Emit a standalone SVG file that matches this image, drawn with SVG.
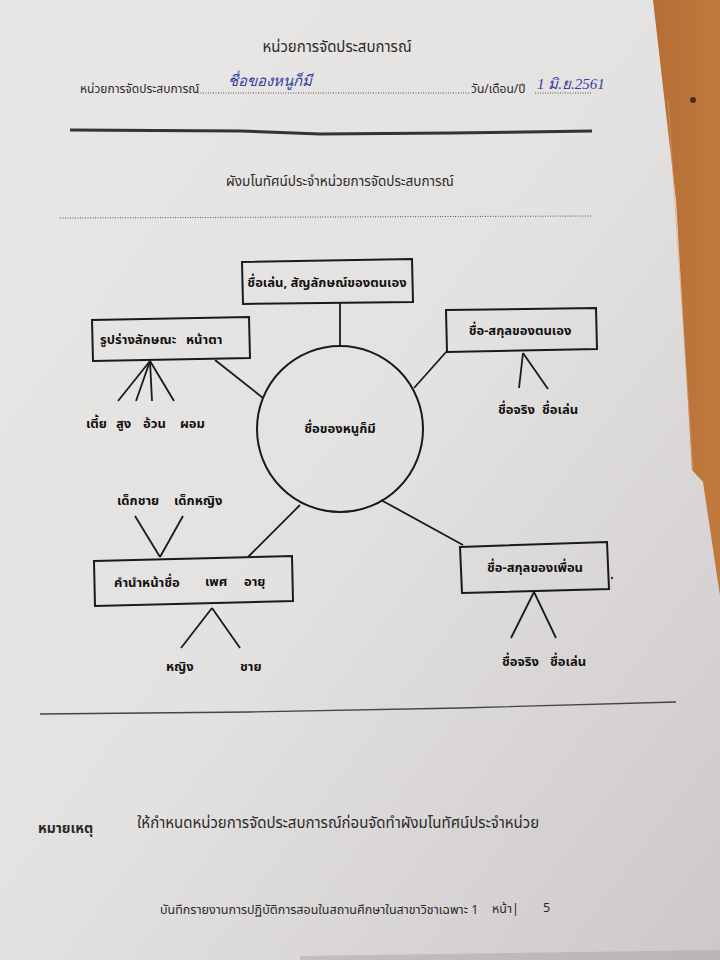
<svg xmlns="http://www.w3.org/2000/svg" width="720" height="960" viewBox="0 0 720 960">
<defs>
<linearGradient id="paper" x1="0" y1="0" x2="1" y2="1">
<stop offset="0" stop-color="#e9e6e6"/>
<stop offset="0.5" stop-color="#e4e1e1"/>
<stop offset="1" stop-color="#cdc9ca"/>
</linearGradient>
<linearGradient id="wood" x1="0" y1="0" x2="1" y2="0">
<stop offset="0" stop-color="#b56d33"/>
<stop offset="1" stop-color="#c07a3e"/>
</linearGradient>
</defs>
<style>
text{font-family:"Noto Sans Thai","Noto Sans","Liberation Sans",sans-serif;fill:#2a2a2a}
.h{font-size:15px}
.b{font-size:13px;font-weight:bold;fill:#111}
.hand{font-family:"Liberation Serif",serif;font-style:italic;font-size:15px;fill:#3540a0}
.box{fill:none;stroke:#1a1a1a;stroke-width:2}
.ln{stroke:#1a1a1a;stroke-width:1.8;fill:none}
.dot{stroke:#555;stroke-width:1;stroke-dasharray:1 1.5;fill:none}
.f{font-size:12.5px}
</style>
<rect x="0" y="0" width="720" height="960" fill="url(#paper)"/>
<polygon points="653,0 720,0 720,596 703,482 692,470 676,200" fill="url(#wood)"/>
<line x1="668" y1="100" x2="693" y2="470" stroke="#d9a277" stroke-width="1" opacity="0.6"/>
<circle cx="693" cy="100" r="3" fill="#4a2a15"/>
<polygon points="300,956 720,950 720,960 300,960" fill="#9a98a0" opacity="0.4"/>

<g id="header">
<text x="337" y="52" class="h" text-anchor="middle">หน่วยการจัดประสบการณ์</text>
<text x="80" y="93" style="font-size:12px">หน่วยการจัดประสบการณ์</text>
<line x1="198" y1="93" x2="470" y2="93" class="dot"/>
<text x="228" y="86" class="hand">ชื่อของหนูก็มี</text>
<text x="471" y="93" style="font-size:12px">วัน/เดือน/ปี</text>
<line x1="535" y1="93" x2="592" y2="93" class="dot"/>
<text x="537" y="89" class="hand">1 มิ.ย.2561</text>
<path d="M70,130 L240,131 L320,134 L450,133 L592,131" stroke="#333" stroke-width="3" fill="none"/>
<text x="340" y="186" text-anchor="middle" style="font-size:13.5px">ผังมโนทัศน์ประจำหน่วยการจัดประสบการณ์</text>
<line x1="60" y1="218" x2="592" y2="216" class="dot"/>
</g>

<g id="connectors">
<line x1="340" y1="303" x2="340" y2="346" class="ln"/>
<line x1="215" y1="360" x2="263" y2="398" class="ln"/>
<line x1="447" y1="351" x2="414" y2="388" class="ln"/>
<line x1="300" y1="505" x2="248" y2="557" class="ln"/>
<line x1="381" y1="500" x2="463" y2="545" class="ln"/>
<line x1="150" y1="361" x2="118" y2="401" class="ln"/>
<line x1="150" y1="361" x2="136" y2="401" class="ln"/>
<line x1="150" y1="361" x2="152" y2="401" class="ln"/>
<line x1="150" y1="361" x2="174" y2="401" class="ln"/>
<line x1="523" y1="353" x2="519" y2="388" class="ln"/>
<line x1="523" y1="353" x2="548" y2="389" class="ln"/>
<line x1="135" y1="516" x2="160" y2="557" class="ln"/>
<line x1="183" y1="516" x2="160" y2="557" class="ln"/>
<line x1="212" y1="608" x2="181" y2="648" class="ln"/>
<line x1="212" y1="608" x2="240" y2="648" class="ln"/>
<line x1="534" y1="592" x2="511" y2="638" class="ln"/>
<line x1="534" y1="592" x2="556" y2="638" class="ln"/>
</g>

<g id="center">
<circle cx="340" cy="429" r="83" class="box"/>
<text x="340" y="433" class="b" text-anchor="middle">ชื่อของหนูก็มี</text>
</g>

<g id="top">
<polygon points="242,262 412,259 413,302 243,304" class="box"/>
<text x="327" y="287" class="b" text-anchor="middle">ชื่อเล่น, สัญลักษณ์ของตนเอง</text>
</g>

<g id="looks">
<polygon points="92,320 249,317 250,358 93,361" class="box"/>
<text x="100" y="344" class="b">รูปร่างลักษณะ</text>
<text x="186" y="344" class="b">หน้าตา</text>
<text x="86" y="428" class="b">เตี้ย</text>
<text x="116" y="428" class="b">สูง</text>
<text x="143" y="428" class="b">อ้วน</text>
<text x="180" y="428" class="b">ผอม</text>
</g>

<g id="ownname">
<polygon points="446,310 596,308 597,349 447,352" class="box"/>
<text x="520" y="335" class="b" text-anchor="middle">ชื่อ-สกุลของตนเอง</text>
<text x="498" y="414" class="b">ชื่อจริง</text>
<text x="542" y="414" class="b">ชื่อเล่น</text>
</g>

<g id="title">
<polygon points="94,561 292,556 293,601 95,606" class="box"/>
<text x="114" y="587" class="b">คำนำหน้าชื่อ</text>
<text x="205" y="586" class="b">เพศ</text>
<text x="244" y="586" class="b">อายุ</text>
<text x="117" y="505" class="b">เด็กชาย</text>
<text x="174" y="505" class="b">เด็กหญิง</text>
<text x="166" y="671" class="b">หญิง</text>
<text x="240" y="671" class="b">ชาย</text>
</g>

<g id="friend">
<polygon points="460,547 607,542 609,589 462,593" class="box"/>
<text x="535" y="572" class="b" text-anchor="middle">ชื่อ-สกุลของเพื่อน</text>
<text x="502" y="666" class="b">ชื่อจริง</text>
<text x="550" y="666" class="b">ชื่อเล่น</text>
<circle cx="612" cy="578" r="1.2" fill="#333"/>
</g>

<g id="footer">
<path d="M40,714 L250,712 L460,708 L676,702" stroke="#444" stroke-width="1.4" fill="none"/>
<text x="38" y="833" style="font-size:14px;font-weight:bold">หมายเหตุ</text>
<text x="137" y="828" style="font-size:15px">ให้กำหนดหน่วยการจัดประสบการณ์ก่อนจัดทำผังมโนทัศน์ประจำหน่วย</text>
<text x="160" y="914" class="f">บันทึกรายงานการปฏิบัติการสอนในสถานศึกษาในสาขาวิชาเฉพาะ 1</text>
<text x="492" y="913" class="f">หน้า|</text>
<text x="543" y="912" class="f">5</text>
</g>
</svg>
